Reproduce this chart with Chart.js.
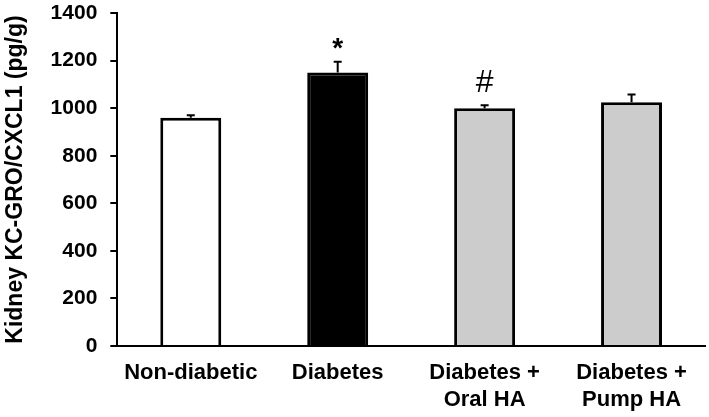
<!DOCTYPE html>
<html>
<head>
<meta charset="utf-8">
<script src="https://cdn.jsdelivr.net/npm/chart.js@4"></script>
<style>
  html, body { margin: 0; padding: 0; background: #fff; }
  #wrap { width: 709px; height: 417px; }
</style>
</head>
<body>
<div id="wrap"><canvas id="kc-chart" width="709" height="417"></canvas></div>
<script>
const categories = ['Non-diabetic', 'Diabetes', ['Diabetes +', 'Oral HA'], ['Diabetes +', 'Pump HA']];
const means = [960, 1150, 1000, 1025];
const errors = [10, 45, 12, 32];
const markers = ['', '*', '#', ''];
const fills = ['#ffffff', '#000000', '#cccccc', '#cccccc'];
const yTicks = [0, 200, 400, 600, 800, 1000, 1200, 1400];

// upper error whiskers + significance markers
const errorBars = {
  id: 'errorBars',
  afterDatasetsDraw(chart) {
    const ctx = chart.ctx;
    const y = chart.scales.y;
    const meta = chart.getDatasetMeta(0);
    ctx.save();
    ctx.strokeStyle = '#000';
    ctx.lineWidth = 2;
    meta.data.forEach((bar, i) => {
      const top = y.getPixelForValue(means[i]);
      const tip = y.getPixelForValue(means[i] + errors[i]);
      ctx.beginPath();
      ctx.moveTo(bar.x, top);
      ctx.lineTo(bar.x, tip);
      ctx.moveTo(bar.x - 4, tip);
      ctx.lineTo(bar.x + 4, tip);
      ctx.stroke();
      if (markers[i]) {
        ctx.fillStyle = '#000';
        ctx.textAlign = 'center';
        ctx.textBaseline = 'alphabetic';
        if (markers[i] === '*') {
          ctx.font = 'bold 28px "Liberation Sans"';
          ctx.fillText(markers[i], bar.x, tip - 5);
        } else {
          ctx.font = '32px "Liberation Sans"';
          ctx.fillText(markers[i], bar.x, tip - 13);
        }
      }
    });
    ctx.restore();
  }
};

new Chart(document.getElementById('kc-chart').getContext('2d'), {
  type: 'bar',
  data: {
    labels: categories,
    datasets: [{
      data: means,
      backgroundColor: fills,
      borderColor: '#000',
      borderWidth: 3,
      barPercentage: 0.415,
      categoryPercentage: 1
    }]
  },
  options: {
    responsive: false,
    animation: false,
    layout: { padding: { top: 0, right: 4, left: 2, bottom: 0 } },
    plugins: { legend: { display: false }, tooltip: { enabled: false } },
    scales: {
      x: {
        afterFit: axis => { axis.height = 71; },
        grid: { display: false },
        border: { color: '#000', width: 2 },
        ticks: {
          color: '#000',
          padding: 6,
          maxRotation: 0,
          autoSkip: false,
          font: { family: 'Liberation Sans', size: 22, weight: 'bold', lineHeight: 1.22 }
        }
      },
      y: {
        min: 0,
        max: 1400,
        afterBuildTicks: axis => { axis.ticks = yTicks.map(v => ({ value: v })); },
        afterFit: axis => { axis.paddingTop = 13; axis.paddingBottom = 13; },
        ticks: {
          color: '#000',
          padding: 13,
          callback: v => String(v),
          font: { family: 'Liberation Sans', size: 21, weight: 'bold' }
        },
        grid: { drawOnChartArea: false, color: '#000', lineWidth: 2, tickLength: 7 },
        border: { color: '#000', width: 2 },
        title: {
          display: true,
          text: 'Kidney KC-GRO/CXCL1 (pg/g)',
          color: '#000',
          padding: { top: 0, bottom: 8 },
          font: { family: 'Liberation Sans', size: 23, weight: 'bold', lineHeight: 1.2 }
        }
      }
    }
  },
  plugins: [errorBars]
});
</script>
</body>
</html>
